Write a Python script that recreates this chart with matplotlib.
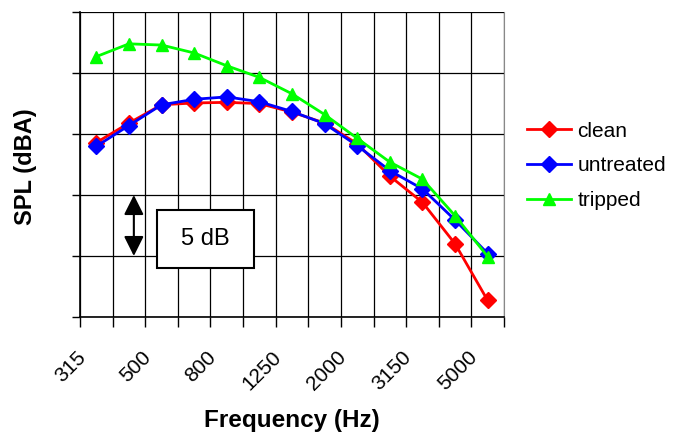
import matplotlib
matplotlib.use("Agg")
import matplotlib.pyplot as plt
from matplotlib.patches import Rectangle
from matplotlib.transforms import ScaledTranslation
import numpy as np

plt.rcParams['font.family'] = ['Liberation Sans', 'DejaVu Sans']

freqs = ["315", "400", "500", "630", "800", "1000", "1250", "1600",
         "2000", "2500", "3150", "4000", "5000"]
clean = [14.3, 15.9, 17.4, 17.55, 17.6, 17.5, 16.8, 15.9, 14.2, 11.55, 9.4, 6.0, 1.35]
untreated = [14.0, 15.7, 17.4, 17.85, 18.05, 17.65, 16.85, 15.85, 14.05, 12.0, 10.5, 7.95, 5.2]
tripped = [21.35, 22.4, 22.3, 21.65, 20.6, 19.65, 18.3, 16.6, 14.65, 12.7, 11.3, 8.3, 4.95]

fig = plt.figure(figsize=(6.82, 4.33), dpi=100)
ax = fig.add_axes([0.1173, 0.268, 0.6217, 0.704])

x = np.arange(len(freqs))
ax.plot(x, clean, color='#FF0000', lw=2, marker='D', ms=8, label='clean', zorder=3)
ax.plot(x, untreated, color='#0000FF', lw=2, marker='D', ms=8, label='untreated', zorder=4)
ax.plot(x, tripped, color='#00FF00', lw=2, marker='^', ms=8, label='tripped', zorder=5)

ax.set_xlim(-0.5, len(freqs) - 0.5)
ax.set_ylim(0, 25)

# x ticks at category boundaries, labels at every other category center
ax.set_xticks(np.arange(-0.5, len(freqs)))
ax.set_xticklabels([])
ax.set_xticks(x[::2], minor=True)
ax.set_xticklabels(freqs[::2], minor=True, rotation=45, ha='right', va='top',
                   fontsize=15)
ax.tick_params(axis='x', which='minor', length=0, pad=22)
ax.tick_params(axis='x', which='major', length=7, width=1, direction='out', color='black')
shift = ScaledTranslation(-0.07, 0, fig.dpi_scale_trans)
for lab in ax.get_xticklabels(minor=True):
    lab.set_transform(lab.get_transform() + shift)

ax.set_yticks(np.arange(0, 26, 5))
ax.set_yticklabels([])
ax.tick_params(axis='y', length=6, width=1, direction='out')

ax.grid(True, which='major', color='black', lw=0.9)
ax.set_axisbelow(True)

ax.spines['top'].set_visible(False)
ax.spines['right'].set_color('#888888')
ax.spines['left'].set_linewidth(1.2)
ax.spines['bottom'].set_linewidth(1.2)

ax.set_xlabel('Frequency (Hz)', fontsize=17.5, fontweight='bold', labelpad=11)
fig.text(0.037, 0.614, 'SPL (dBA)', rotation=90, fontsize=17, fontweight='bold',
         ha='center', va='center')

# 5 dB scale indicator
ax.annotate('', xy=(0.127, 10), xytext=(0.127, 5),
            xycoords=('axes fraction', 'data'), textcoords=('axes fraction', 'data'),
            arrowprops=dict(arrowstyle='<|-|>', mutation_scale=30, color='black',
                            lw=1.5, shrinkA=0, shrinkB=0), zorder=6)
ax.add_patch(Rectangle((0.1816, 0.1607), 0.2288, 0.190, transform=ax.transAxes,
                       facecolor='white', edgecolor='black', lw=1.5, zorder=6))
ax.text(0.1816 + 0.2288 / 2, 0.1607 + 0.095, '5 dB', transform=ax.transAxes,
        ha='center', va='center', fontsize=17, zorder=7)

fig.legend(loc='center left', bbox_to_anchor=(0.773, 0.617), frameon=False,
           fontsize=15, borderaxespad=0, borderpad=0, handlelength=2.1,
           handletextpad=0.3, labelspacing=0.75)

fig.savefig('out.png', dpi=100)
